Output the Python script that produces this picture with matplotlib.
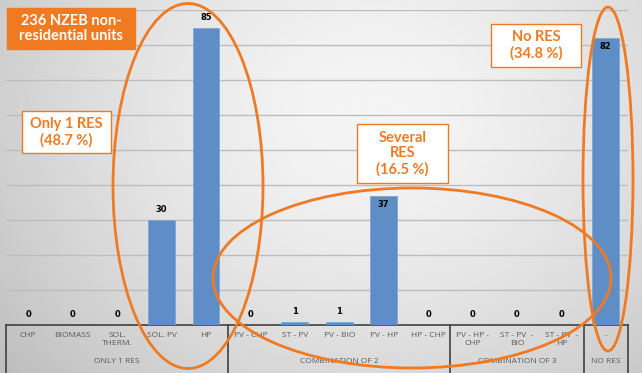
import numpy as np
import matplotlib.pyplot as plt
from matplotlib.patches import Ellipse, Rectangle

# data
categories = ["CHP", "BIOMASS", "SOL.\nTHERM.", "SOL. PV", "HP",
              "PV - CHP", "ST - PV", "PV - BIO", "PV - HP", "HP - CHP",
              "PV - HP -\nCHP", "ST - PV  -\nBIO", "ST - PV  -\nHP", "-"]
values = [0, 0, 0, 30, 85, 0, 1, 1, 37, 0, 0, 0, 0, 82]
groups = ["ONLY 1 RES", "COMBINATION OF 2", "COMBINATION OF 3", "NO RES"]
group_sizes = [5, 5, 3, 1]
inside_labels = ["PV - HP", "-"]  # bars whose value sits inside the top

W, H = 642, 373
orange = "#F07A22"
bar_col = "#5F8DC6"

fig = plt.figure(figsize=(W / 100, H / 100), dpi=100)

def fx(x):
    return x / W

def fy(y):
    return 1 - y / H

# background gradient
bg = fig.add_axes([0, 0, 1, 1], zorder=-5)
gx, gy = np.meshgrid(np.linspace(0, 1, 300), np.linspace(0, 1, 200))
d = np.sqrt(((gx - 0.58) / 0.75) ** 2 + ((gy - 0.3) / 1.1) ** 2)
shade = 0.96 - 0.22 * np.clip(d, 0, 1) ** 1.6
bg.imshow(shade, cmap="gray", vmin=0, vmax=1, aspect="auto", extent=[0, 1, 1, 0])
bg.axis("off")

# main axes: baseline at y=325px, top at 10px, x from 6 to 628px
ax = fig.add_axes([fx(6), 1 - 325 / H, 622 / W, 315 / H])
ax.patch.set_alpha(0)
x = np.arange(len(values))
ax.bar(x, values, width=0.6, color=bar_col, edgecolor="#7fa6d6", linewidth=0.6, zorder=3)
ax.set_xlim(-0.5, len(values) - 0.5)
ax.set_ylim(0, 90)
ax.set_yticks(np.arange(10, 91, 10))
ax.yaxis.grid(True, color="#bdbdbd", linewidth=1.0)
ax.tick_params(left=False, labelleft=False, bottom=False, labelbottom=False)
for s in ["left", "right", "top"]:
    ax.spines[s].set_visible(False)
ax.spines["bottom"].set_color("#404040")
ax.spines["bottom"].set_linewidth(1.2)

# data labels
for i, (c, v) in enumerate(zip(categories, values)):
    if c in inside_labels:
        ax.annotate(str(v), (i, v), xytext=(0, -3), textcoords="offset points",
                    ha="center", va="top", fontsize=6, fontweight="bold", zorder=4)
    else:
        ax.annotate(str(v), (i, v), xytext=(0, 4), textcoords="offset points",
                    ha="center", va="bottom", fontsize=6, fontweight="bold", zorder=4)

# category labels (multi-level axis)
tr = ax.get_xaxis_transform()
for i, c in enumerate(categories):
    ax.text(i, -0.022, c, transform=tr, ha="center", va="top", fontsize=6,
            color="#595959", linespacing=1.3, family="Open Sans")
edges = np.concatenate([[0], np.cumsum(group_sizes)]) - 0.5
for k, g in enumerate(groups):
    mid = (edges[k] + edges[k + 1]) / 2
    ax.text(mid, -0.117, g, transform=tr, ha="center", va="center", fontsize=6,
            color="#595959", family="Open Sans")
for e in edges:
    ax.plot([e, e], [0, -0.152], transform=tr, color="#404040", lw=1.2, clip_on=False)

# ellipses
for cx, cy, w, h in [(188, 186, 150, 365), (412, 278, 398, 180), (608, 179, 50, 344)]:
    fig.add_artist(Ellipse((fx(cx), fy(cy)), w / W, h / H, transform=fig.transFigure,
                           fill=False, edgecolor=orange, lw=2.0, zorder=10))

# text boxes
boxes = [
    (7, 8, 135, 49, "236 NZEB non-\nresidential units", True),
    (22, 111, 111, 153, "Only 1 RES\n(48.7 %)", False),
    (357, 124, 448, 183, "Several\nRES\n(16.5 %)", False),
    (491, 24, 581, 67, "No RES\n(34.8 %)", False),
]
for x0, y0, x1, y1, txt, filled in boxes:
    fig.add_artist(Rectangle((fx(x0), fy(y1)), (x1 - x0) / W, (y1 - y0) / H,
                             transform=fig.transFigure, zorder=11,
                             facecolor=orange if filled else "white",
                             edgecolor=orange, lw=1.0))
    fig.text(fx((x0 + x1) / 2), fy((y0 + y1) / 2), txt, ha="center", va="center",
             fontsize=10.5, fontweight="bold", family="Lato", linespacing=1.15,
             color="white" if filled else orange, zorder=12)

fig.savefig("out.png", dpi=100)
